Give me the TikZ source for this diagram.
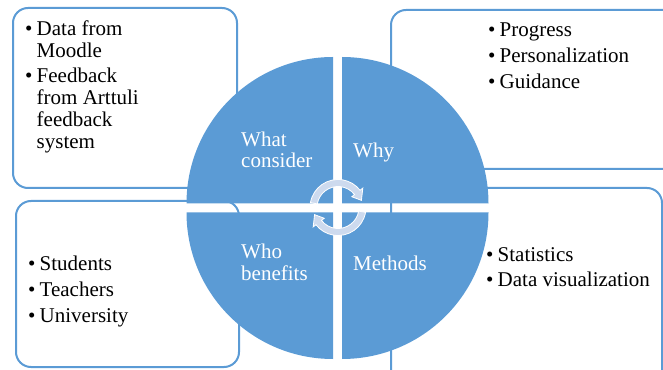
\documentclass[tikz,border=0pt]{standalone}
\usepackage{fontspec}
\setmainfont{Liberation Serif}
\definecolor{la@blue}{RGB}{91,155,213}
\definecolor{la@light}{RGB}{205,218,238}

\newcommand{\bul}{\makebox[11.5pt][l]{\textbullet}}
\newcommand{\ind}{\hspace*{11.5pt}}

\tikzset{
  listbox/.style={draw=la@blue, line width=2pt, rounded corners=15pt},
  quarter/.style={fill=la@blue},
  listtext/.style={anchor=base west, inner sep=0pt, font=\rmfamily\fontsize{21}{26}\selectfont},
  quartertext/.style={anchor=base west, inner sep=0pt, text=white, font=\rmfamily\fontsize{21}{21}\selectfont},
  cyclearrow/.style={fill=la@light, draw=white, line width=0.8pt},
}

\begin{document}
\begin{tikzpicture}[x=1pt, y=1pt]
\clip (0,0) rectangle (663,369);

% boxes behind the circle
\draw[listbox] (13,181) rectangle (237,361);
\draw[listbox] (391,200) rectangle (700,359);
\draw[listbox] (16,2) rectangle (239,168);
\draw[listbox] (391,-20) rectangle (662,181);

% four quarters, each pushed out from the centre
\foreach \ang/\dx/\dy in {90/-4.5/4.5, 0/4.5/4.5, 180/-4.5/-4.5, 270/4.5/-4.5}
  \fill[quarter] (337.5+\dx,161+\dy) -- ++(\ang:146.5)
    arc[start angle=\ang, end angle=\ang+90, radius=146.5] -- cycle;

% circular arrows
\foreach \rot in {0,180}
  \filldraw[cyclearrow, shift={(338,161.5)}, rotate=\rot]
    (170:28) arc[start angle=170, end angle=38, radius=28]
    -- (38:31.5) -- (17:24.5) -- (38:17.5) -- (38:21)
    arc[start angle=38, end angle=170, radius=21] -- cycle;

% labels in the quarters
\node[quartertext] (what) at (241,222)
  {\begin{tabular}[t]{@{}l@{}}What\\ consider\end{tabular}};
\node[quartertext] (why) at (353,211) {Why};
\node[quartertext, font=\rmfamily\fontsize{21}{22}\selectfont] (who) at (241,110)
  {\begin{tabular}[t]{@{}l@{}}Who\\ benefits\end{tabular}};
\node[quartertext] (methods) at (353,98) {Methods};

% Data sources
\node[listtext, font=\rmfamily\fontsize{21}{22}\selectfont] (consider list) at (25,333)
  {\begin{tabular}[t]{@{}l@{}}\bul Data from\\ \ind Moodle\\[3pt]
   \bul Feedback\\ \ind from Arttuli\\ \ind feedback\\ \ind system\end{tabular}};

% Reasons
\node[listtext] (why list) at (488,332)
  {\begin{tabular}[t]{@{}l@{}}\bul Progress\\ \bul Personalization\\
   \bul Guidance\end{tabular}};

% Users
\node[listtext] (who list) at (28,98)
  {\begin{tabular}[t]{@{}l@{}}\bul Students\\ \bul Teachers\\
   \bul University\end{tabular}};

% Methods
\node[listtext, font=\rmfamily\fontsize{21}{25}\selectfont] (methods list) at (486,107)
  {\begin{tabular}[t]{@{}l@{}}\bul Statistics\\ \bul Data visualization\end{tabular}};

\end{tikzpicture}
\end{document}
